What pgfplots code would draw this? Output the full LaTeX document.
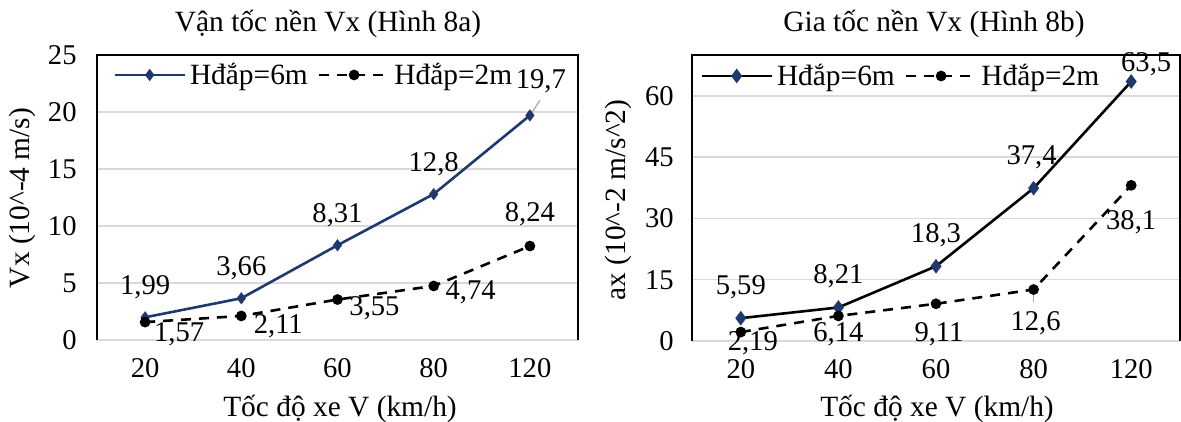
\documentclass[border=0pt]{standalone}
\usepackage{fontspec}
\setmainfont{Liberation Serif}
\usepackage{pgfplots}
\usepackage{pgfplotstable}
\pgfplotsset{compat=1.18}
\definecolor{navy}{RGB}{31,56,110}
\definecolor{gridgray}{RGB}{217,217,217}
\newcommand{\fs}{\fontsize{14.3}{17}\selectfont}
\newcommand{\fl}{\fontsize{14.7}{17}\selectfont}

% x = category index (20,40,60,80,120), y = value, lab = data label, dx/dy = label offset (pt)
\pgfplotstableread{
x y lab dx dy
0 1.99 1,99 0 15
1 3.66 3,66 0 15
2 8.31 8,31 0 15
3 12.8 12,8 0 15
4 19.7 19,7 5.5 17
}\vxsix
\pgfplotstableread{
x y lab dx dy
0 1.57 1,57 17 -6
1 2.11 2,11 18.5 -5
2 3.55 3,55 18.5 -4.5
3 4.74 4,74 18.5 -3
4 8.24 8,24 0 16
}\vxtwo
\pgfplotstableread{
x y lab dx dy
0 5.59 5,59 0 15.5
1 8.21 8,21 0 15.5
2 18.3 18,3 0 15.5
3 37.4 37,4 -1 15.5
4 63.5 63,5 7.5 8.5
}\axsix
\pgfplotstableread{
x y lab dx dy
0 2.19 2,19 6 -5.5
1 6.14 6,14 0 -9
2 9.11 9,11 1.5 -15
3 12.6 12,6 1 -17
4 38.1 38,1 0 -18.5
}\axtwo

\pgfplotsset{
  excelbase/.style={
    scale only axis,
    clip=false,
    xmin=-0.5, xmax=4.5,
    xtick={0,1,2,3,4},
    xticklabels={20,40,60,80,120},
    major tick length=0pt,
    ymajorgrids,
    grid style={gridgray, line width=0.75pt},
    axis line style={draw=none},
    tick label style={font=\fs},
    /pgf/number format/assume math mode=true,
    xticklabel style={inner sep=0pt, yshift=-9pt},
    legend columns=2,
    legend cell align=left,
    legend style={draw=none, fill=none, font=\fl, inner sep=0pt,
      /tikz/every even column/.append style={column sep=3pt}},
    legend image code/.code={\draw[mark repeat=2,mark phase=2,##1] plot coordinates {(0pt,0pt) (17.5pt,0pt) (35pt,0pt)};},
  },
  lab/.style={
    nodes near coords,
    point meta=explicit symbolic,
    visualization depends on={\thisrow{dx} \as \dx},
    visualization depends on={\thisrow{dy} \as \dy},
    every node near coord/.append style={font=\fs, text=black, anchor=center, inner sep=0pt, xshift=\dx, yshift=\dy},
  },
}

\begin{document}
\begin{tikzpicture}
\path[use as bounding box] (0,0) rectangle (590.5pt,211pt);

% ---------- Left: Vx ----------
\begin{axis}[excelbase,
  at={(48.5pt,41pt)}, anchor=south west,
  width=240.5pt, height=142.5pt,
  ymin=0, ymax=25, ytick={0,5,10,15,20,25},
  yticklabel style={inner sep=0pt, xshift=-10pt},
  legend style={at={(rel axis cs:0,1)}, anchor=west, xshift=8pt, yshift=-10pt},
]
\addplot[navy, line width=1.3pt, mark=diamond*, mark size=2pt, mark options={solid}, lab]
  table[x=x, y=y, meta=lab] {\vxsix};
\addlegendentry{Hđắp=6m}
\addplot[black, line width=1.3pt, dash pattern=on 5pt off 4pt, mark=*, mark size=2pt, mark options={solid}, lab]
  table[x=x, y=y, meta=lab] {\vxtwo};
\addlegendentry{Hđắp=2m}
\draw[gray!70, line width=0.6pt] (axis cs:4,19.7) -- ++(5pt,7.5pt);
\draw[black, line width=1pt] (rel axis cs:0,0) -- (rel axis cs:0,1) -- (rel axis cs:1,1) -- (rel axis cs:1,0);
\end{axis}

% ---------- Right: ax ----------
\begin{axis}[excelbase,
  at={(346pt,40.5pt)}, anchor=south west,
  width=244pt, height=143pt,
  ymin=0, ymax=70, ytick={0,15,30,45,60},
  yticklabel style={inner sep=0pt, xshift=-9pt},
  legend style={at={(rel axis cs:0,1)}, anchor=west, xshift=4pt, yshift=-10.5pt},
]
\addplot[black, line width=1.3pt, mark=diamond*, mark size=2.6pt, mark options={solid, fill=navy, draw=navy}, lab]
  table[x=x, y=y, meta=lab] {\axsix};
\addlegendentry{Hđắp=6m}
\addplot[black, line width=1.3pt, dash pattern=on 5pt off 4pt, mark=*, mark size=2pt, mark options={solid}, lab]
  table[x=x, y=y, meta=lab] {\axtwo};
\addlegendentry{Hđắp=2m}
\draw[gray!70, line width=0.6pt] (axis cs:3,12.6) -- ++(0pt,-6pt);
\draw[black, line width=1pt] (rel axis cs:0,0) -- (rel axis cs:0,1) -- (rel axis cs:1,1) -- (rel axis cs:1,0);
\end{axis}

% ---------- Titles and axis labels ----------
\node[font=\fl] at (164pt,199pt) {Vận tốc nền Vx (Hình 8a)};
\node[font=\fl] at (467pt,199pt) {Gia tốc nền Vx (Hình 8b)};
\node[font=\fl] at (170pt,6.5pt) {Tốc độ xe V (km/h)};
\node[font=\fl] at (468.5pt,6.5pt) {Tốc độ xe V (km/h)};
\node[font=\fl, rotate=90] at (11pt,112pt) {Vx (10\^{}-4 m/s)};
\node[font=\fl, rotate=90] at (309pt,111pt) {ax (10\^{}-2 m/s\^{}2)};
\end{tikzpicture}
\end{document}
